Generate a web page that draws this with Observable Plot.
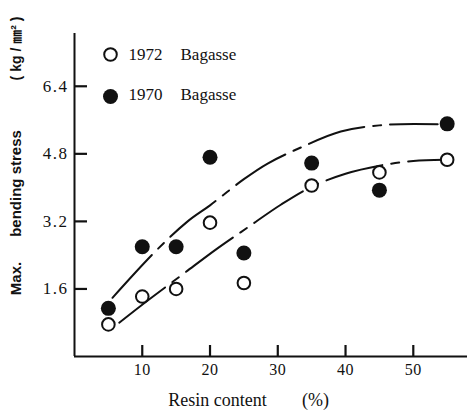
<!DOCTYPE html>
<html>
<head>
<meta charset="utf-8">
<script src="https://cdn.jsdelivr.net/npm/d3@7"></script>
<script src="https://cdn.jsdelivr.net/npm/@observablehq/plot@0.6"></script>
<style>
  body { margin: 0; background: #fff; }
  svg text { fill: #111; }
  g[aria-label="y-axis tick label"] text { letter-spacing: 1.5px; }
  g[aria-label="x-axis tick label"] text { letter-spacing: 0.5px; }
  g[aria-label="legend material"] text { letter-spacing: 1.6px; }
  g[aria-label="x label"] text { letter-spacing: 1px; }
  g[aria-label="y label words"] text { letter-spacing: 2.5px; }
  g[aria-label="y label unit"] text { letter-spacing: 2px; }
</style>
</head>
<body>
<div id="chart"></div>
<script>
// Resin content (%) of the boards
const resin = [5, 10, 15, 20, 25, 35, 45, 55];
// Maximum bending stress (kg/mm²)
const stress1972 = [0.76, 1.42, 1.60, 3.17, 1.74, 4.05, 4.36, 4.66];
const stress1970 = [1.14, 2.60, 2.60, 4.72, 2.45, 4.58, 3.94, 5.51];

// Hand-fitted trend curves
const trend1970X = [5.6, 12, 16.7, 20, 25, 28.5, 33.4, 39.3, 46.2, 53.6];
const trend1970Y = [1.39, 2.5, 3.2, 3.58, 4.2, 4.57, 4.95, 5.33, 5.49, 5.5];
const trend1972X = [6.6, 11, 16, 21, 25.5, 30.5, 35, 40, 45, 50, 54.5];
const trend1972Y = [0.8, 1.35, 1.95, 2.55, 3.05, 3.6, 4.02, 4.33, 4.52, 4.63, 4.66];

const xTicks = [10, 20, 30, 40, 50];
const yTicks = [1.6, 3.2, 4.8, 6.4];
const years = ["1972", "1970"];
const material = "Bagasse";

const pts1972 = resin.map((x, i) => ({x, y: stress1972[i]}));
const pts1970 = resin.map((x, i) => ({x, y: stress1970[i]}));
const fit1970 = trend1970X.map((x, i) => ({x, y: trend1970Y[i]}));
const fit1972 = trend1972X.map((x, i) => ({x, y: trend1972Y[i]}));

const dash = "58,9,8,9";
const center = {textAnchor: "middle", lineAnchor: "middle"};
const yTitle = {frameAnchor: "top-left", dx: -58, rotate: -90, fontFamily: "'Liberation Sans', 'Noto Sans CJK JP', sans-serif", fontWeight: "bold", ...center};

const chart = Plot.plot({
  width: 468,
  height: 412,
  marginLeft: 74,
  marginRight: 1,
  marginTop: 33,
  marginBottom: 56,
  x: {domain: [0, 58]},
  y: {domain: [0, 7.65]},
  style: {fontFamily: "'Liberation Serif', serif", fontSize: "17px", background: "#fff", color: "#111"},
  marks: [
    // axis lines
    Plot.ruleY([0], {stroke: "#111", strokeWidth: 1.8}),
    Plot.ruleX([0], {stroke: "#111", strokeWidth: 2}),
    // ticks point into the plot (negative tick size), labels sit outside
    Plot.axisX(xTicks, {tickSize: -11, tickPadding: 18, stroke: "#111", strokeWidth: 2.2, fontSize: 16, label: null, tickFormat: d => String(d)}),
    Plot.axisY(yTicks, {tickSize: -13, tickPadding: 19, stroke: "#111", strokeWidth: 2.2, fontSize: 17, label: null, tickFormat: d => d.toFixed(1)}),
    // trend curves
    Plot.line(fit1970, {x: "x", y: "y", curve: "catmull-rom", stroke: "#111", strokeWidth: 2, strokeDasharray: dash}),
    Plot.line(fit1972, {x: "x", y: "y", curve: "catmull-rom", stroke: "#111", strokeWidth: 2, strokeDasharray: dash}),
    // observations
    Plot.dot(pts1970, {x: "x", y: "y", r: 7.5, fill: "#111", stroke: "none"}),
    Plot.dot(pts1972, {x: "x", y: "y", r: 6.3, fill: "#fff", stroke: "#111", strokeWidth: 2}),
    // legend
    Plot.dot([years[0]], {frameAnchor: "top-left", dx: 36, dy: 21, r: 6.3, fill: "#fff", stroke: "#111", strokeWidth: 2}),
    Plot.dot([years[1]], {frameAnchor: "top-left", dx: 36, dy: 63, r: 7.5, fill: "#111"}),
    Plot.text([years[0]], {text: d => d, frameAnchor: "top-left", dx: 54, dy: 21, textAnchor: "start", lineAnchor: "middle", fontSize: 17}),
    Plot.text([years[1]], {text: d => d, frameAnchor: "top-left", dx: 54, dy: 61, textAnchor: "start", lineAnchor: "middle", fontSize: 17}),
    Plot.text([material], {text: d => d, frameAnchor: "top-left", dx: 106, dy: 21, textAnchor: "start", lineAnchor: "middle", fontSize: 17, ariaLabel: "legend material"}),
    Plot.text([material], {text: d => d, frameAnchor: "top-left", dx: 106, dy: 61, textAnchor: "start", lineAnchor: "middle", fontSize: 17, ariaLabel: "legend material"}),
    // x axis title
    Plot.text(["Resin content"], {text: d => d, frameAnchor: "bottom-left", dx: 143, dy: 44, fontSize: 18, ariaLabel: "x label", ...center}),
    Plot.text(["(%)"], {text: d => d, frameAnchor: "bottom-left", dx: 241, dy: 44, fontSize: 18, ariaLabel: "x label", ...center}),
    // y axis title
    Plot.text(["Max."], {text: d => d, dy: 245, fontSize: 15, ...yTitle}),
    Plot.text(["bending stress"], {text: d => d, dy: 150, fontSize: 15, ariaLabel: "y label words", ...yTitle}),
    Plot.text(["( kg / ㎜² )"], {text: d => d, dy: 15, fontSize: 14, ariaLabel: "y label unit", ...yTitle})
  ]
});

document.getElementById("chart").appendChild(chart);
</script>
</body>
</html>
